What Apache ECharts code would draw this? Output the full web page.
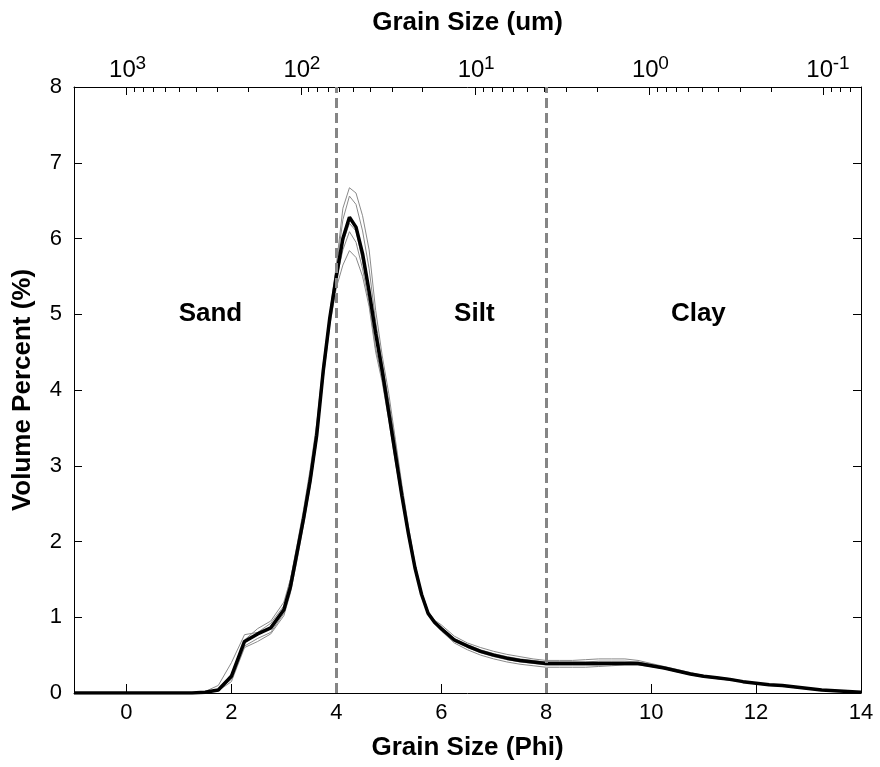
<!DOCTYPE html>
<html>
<head>
<meta charset="utf-8">
<script src="https://cdn.jsdelivr.net/npm/echarts@6/dist/echarts.min.js"></script>
<style>html,body{margin:0;padding:0;background:#fff;}#chart{width:880px;height:767px;}</style>
</head>
<body>
<div id="chart"></div>
<script>
// Grain size (phi) sample positions
const phi = [-1,-0.75,-0.5,-0.25,0,0.25,0.5,0.75,1,1.25,
  1.5,1.75,2,2.25,2.5,2.75,
  3,3.125,3.25,3.375,3.5,3.625,3.75,3.875,4,4.125,4.25,4.375,4.5,4.625,4.75,4.875,5,5.125,5.25,5.375,5.5,5.625,5.75,5.875,6,
  6.25,6.5,6.75,7,7.25,7.5,7.75,8,8.25,8.5,8.75,9,9.25,9.5,9.75,10,10.25,10.5,10.75,11,11.25,11.5,11.75,12,12.25,12.5,12.75,13,13.25,13.5,13.75,14];

// Mean curve (thick black)
const meanCurve = [0,0,0,0,0,0,0,0,0,0,
  0.01,0.04,0.22,0.68,0.78,0.86,
  1.1,1.4,1.85,2.3,2.8,3.4,4.25,4.95,5.5,6.0,6.28,6.15,5.8,5.3,4.75,4.25,3.7,3.15,2.6,2.1,1.65,1.3,1.05,0.93,0.85,
  0.7,0.62,0.55,0.5,0.46,0.43,0.41,0.39,0.39,0.39,0.39,0.39,0.39,0.39,0.39,0.36,0.33,0.29,0.25,0.22,0.2,0.18,0.15,0.13,0.11,0.1,0.08,0.06,0.04,0.03,0.02,0.01];

// Individual samples (thin grey)
const sample1 = [0,0,0,0,0,0,0,0,0,0,
  0.02,0.1,0.4,0.77,0.8,0.92,
  1.15,1.5,1.95,2.42,2.95,3.55,4.35,5.0,5.65,6.4,6.67,6.6,6.3,5.85,5.05,4.45,3.95,3.35,2.75,2.2,1.7,1.33,1.08,0.96,0.9,
  0.75,0.66,0.6,0.55,0.51,0.48,0.45,0.43,0.43,0.43,0.44,0.45,0.45,0.45,0.43,0.39,0.35,0.31,0.27,0.23,0.21,0.19,0.16,0.13,0.11,0.1,0.08,0.06,0.04,0.03,0.02,0.01];
const sample2 = [0,0,0,0,0,0,0,0,0,0,
  0.01,0.05,0.25,0.7,0.85,0.95,
  1.2,1.5,1.9,2.38,2.85,3.48,4.3,5.0,5.6,6.25,6.56,6.45,6.1,5.6,4.9,4.35,3.85,3.3,2.7,2.15,1.68,1.32,1.06,0.94,0.87,
  0.72,0.64,0.57,0.52,0.48,0.45,0.43,0.41,0.41,0.41,0.41,0.42,0.42,0.42,0.41,0.38,0.34,0.3,0.26,0.23,0.2,0.18,0.15,0.13,0.11,0.1,0.08,0.06,0.04,0.03,0.02,0.01];
const sample3 = [0,0,0,0,0,0,0,0,0,0,
  0.01,0.04,0.2,0.66,0.78,0.87,
  1.1,1.4,1.85,2.3,2.8,3.4,4.25,4.95,5.5,5.95,6.2,6.1,5.7,5.25,4.7,4.2,3.7,3.15,2.6,2.1,1.65,1.3,1.05,0.93,0.85,
  0.7,0.61,0.55,0.5,0.46,0.43,0.41,0.39,0.39,0.39,0.39,0.39,0.39,0.39,0.38,0.36,0.33,0.29,0.25,0.22,0.2,0.18,0.15,0.13,0.11,0.1,0.08,0.06,0.04,0.03,0.02,0.01];
const sample4 = [0,0,0,0,0,0,0,0,0,0,
  0.0,0.03,0.15,0.6,0.68,0.78,
  1.02,1.32,1.75,2.22,2.72,3.32,4.18,4.9,5.45,5.85,6.09,5.95,5.6,5.15,4.55,4.15,3.65,3.1,2.58,2.08,1.63,1.28,1.04,0.92,0.83,
  0.68,0.6,0.53,0.48,0.44,0.41,0.39,0.37,0.37,0.37,0.37,0.37,0.38,0.38,0.38,0.35,0.32,0.28,0.25,0.22,0.19,0.17,0.15,0.13,0.11,0.09,0.07,0.06,0.04,0.03,0.02,0.01];
const sample5 = [0,0,0,0,0,0,0,0,0,0,
  0.01,0.04,0.18,0.62,0.72,0.8,
  1.05,1.35,1.8,2.25,2.75,3.35,4.15,4.85,5.35,5.65,5.84,5.75,5.5,5.1,4.5,4.1,3.6,3.05,2.55,2.05,1.62,1.28,1.05,0.92,0.82,
  0.66,0.57,0.5,0.45,0.41,0.38,0.36,0.34,0.34,0.34,0.34,0.35,0.36,0.37,0.37,0.35,0.32,0.28,0.24,0.21,0.19,0.17,0.15,0.12,0.1,0.09,0.07,0.05,0.04,0.03,0.02,0.01];

// Bottom axis ticks (phi) and left axis ticks (%)
const phiTicks = [0,2,4,6,8,10,12,14];
const yTicks = [0,1,2,3,4,5,6,7,8];

// Top axis: grain size in micrometres (log scale), major decades and exponents
const umMajor = [1000,100,10,1,0.1];
const umExponent = ['3','2','1','0','-1'];
const umMinor = [2000,900,800,700,600,500,400,300,200,90,80,70,60,50,40,30,20,9,8,7,6,5,4,3,2,0.9,0.8,0.7,0.6,0.5,0.4,0.3,0.2,0.09,0.08,0.07];

// Size class boundaries and region labels
const boundaries = [4,8];
const regionNames = ['Sand','Silt','Clay'];
const regionX = [1.6,6.63,10.9];
const regionY = [5,5,5];

const toPhi = um => Math.log2(1000/um);
const majorPhi = umMajor.map(toPhi);
const minorPhi = umMinor.map(toPhi);
const nearestMajor = v => {
  let idx = 0, best = 1e9;
  majorPhi.forEach((m,i)=>{ if(Math.abs(m-v)<best){best=Math.abs(m-v); idx=i;} });
  return idx;
};

const FONT = 'Liberation Sans';
const pair = arr => phi.map((p,i)=>[p,arr[i]]);

const chart = echarts.init(document.getElementById('chart'), null, {renderer:'canvas'});
const axisLineStyle = {color:'#000', width:1};
const gridBox = {left:74, right:19, top:87, bottom:74, containLabel:false};

const greyStyle = {color:'#8a8a8a', width:1};
const greySeries = [sample1,sample2,sample3,sample4,sample5].map((s,i)=>({
  type:'line', name:'Sample '+(i+1), data:pair(s), showSymbol:false, symbol:'none',
  lineStyle:greyStyle, z:3, silent:true, xAxisIndex:0, yAxisIndex:0
}));

chart.setOption({
  animation:false,
  backgroundColor:'#fff',
  textStyle:{fontFamily:FONT},
  grid:[Object.assign({}, gridBox), Object.assign({show:false}, gridBox)],
  xAxis:[
    {
      gridIndex:0, type:'value', position:'bottom', min:-1, max:14,
      axisLine:{show:true, onZero:false, lineStyle:axisLineStyle},
      axisTick:{show:true, inside:true, length:9, lineStyle:{color:'#000'}, customValues:phiTicks},
      axisLabel:{show:true, color:'#000', fontSize:22, fontFamily:FONT, margin:9, customValues:phiTicks},
      splitLine:{show:false},
      name:'Grain Size (Phi)', nameLocation:'middle', nameGap:42,
      nameTextStyle:{fontSize:26, fontWeight:'bold', color:'#000', fontFamily:FONT}
    },
    {
      // top axis: major ticks and the "10" part of each decade label
      gridIndex:0, type:'value', position:'top', min:-1, max:14,
      axisLine:{show:true, onZero:false, lineStyle:axisLineStyle},
      axisTick:{show:true, inside:true, length:8, lineStyle:{color:'#000'}, customValues:majorPhi},
      axisLabel:{
        show:true, color:'#000', fontSize:24, fontFamily:FONT, margin:5, customValues:majorPhi,
        align:'center', padding:[0,8,0,0],
        formatter:function(){ return '10'; }
      },
      splitLine:{show:false},
      name:'Grain Size (um)', nameLocation:'middle', nameGap:51,
      nameTextStyle:{fontSize:26, fontWeight:'bold', color:'#000', fontFamily:FONT}
    },
    {
      // top axis: minor log ticks and the exponent of each decade label
      gridIndex:1, type:'value', position:'top', min:-1, max:14,
      axisLine:{show:false, onZero:false},
      axisTick:{show:true, inside:true, length:5, lineStyle:{color:'#000'}, customValues:minorPhi},
      axisLabel:{
        show:true, color:'#000', fontSize:19, fontFamily:FONT, margin:14, customValues:majorPhi,
        align:'left', padding:[0,0,0,9],
        formatter:function(v){ return umExponent[nearestMajor(v)]; }
      },
      splitLine:{show:false}
    }
  ],
  yAxis:[
    {
      gridIndex:0, type:'value', position:'left', min:0, max:8, interval:1,
      axisLine:{show:true, onZero:false, lineStyle:axisLineStyle},
      axisTick:{show:true, inside:true, length:8, lineStyle:{color:'#000'}},
      axisLabel:{show:true, color:'#000', fontSize:22, fontFamily:FONT, margin:12, customValues:yTicks},
      splitLine:{show:false},
      name:'Volume Percent (%)', nameLocation:'middle', nameGap:38,
      nameTextStyle:{fontSize:26, fontWeight:'bold', color:'#000', fontFamily:FONT}
    },
    {
      gridIndex:0, type:'value', position:'right', min:0, max:8, interval:1,
      axisLine:{show:true, onZero:false, lineStyle:axisLineStyle},
      axisTick:{show:true, inside:true, length:8, lineStyle:{color:'#000'}},
      axisLabel:{show:false},
      splitLine:{show:false}
    },
    {
      gridIndex:1, type:'value', min:0, max:8, show:false
    }
  ],
  series:[
    ...greySeries,
    {
      type:'line', name:'Mean', data:pair(meanCurve), showSymbol:false, symbol:'none',
      xAxisIndex:0, yAxisIndex:0,
      lineStyle:{color:'#000', width:3.5}, z:4, silent:true,
      markLine:{
        silent:true, symbol:['none','none'], label:{show:false},
        lineStyle:{color:'#858585', width:3, type:[10,5], opacity:1},
        data:boundaries.map(b=>({xAxis:b}))
      }
    },
    {
      type:'scatter', name:'Regions', symbolSize:0, silent:true, z:5,
      xAxisIndex:0, yAxisIndex:0,
      itemStyle:{opacity:1, color:'#000'},
      data:regionNames.map((n,i)=>({value:[regionX[i],regionY[i]], name:n})),
      label:{show:true, position:'inside', formatter:p=>p.name, fontSize:26, fontWeight:'bold',
        color:'#000', textBorderWidth:0, opacity:1, fontFamily:FONT}
    }
  ]
});
</script>
</body>
</html>
